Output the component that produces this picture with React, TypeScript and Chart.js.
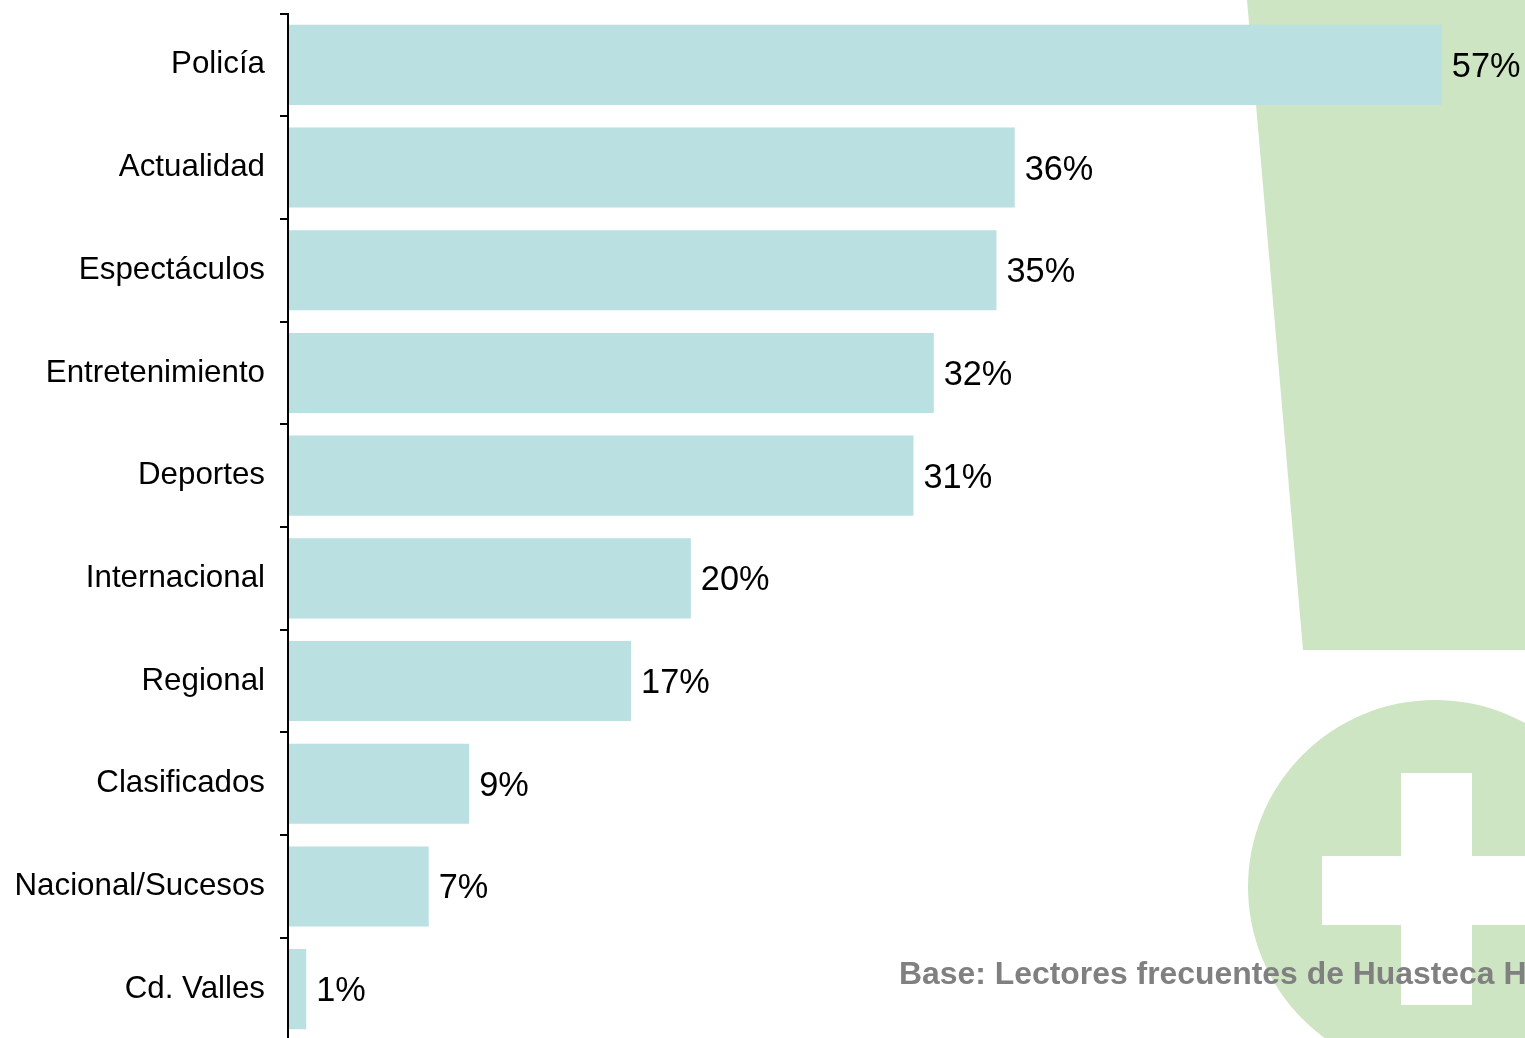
import React, { useEffect, useRef } from "react";
import { Chart, registerables } from "chart.js";

Chart.register(...registerables);

const categories = ["Policía", "Actualidad", "Espectáculos", "Entretenimiento", "Deportes", "Internacional", "Regional", "Clasificados", "Nacional/Sucesos", "Cd. Valles"];
const values = [57, 35.9, 35, 31.9, 30.9, 19.9, 16.95, 8.95, 6.95, 0.9];
const baseNote = "Base: Lectores frecuentes de Huasteca H";

const FONT = '"Liberation Sans", Arial, sans-serif';
const GREEN = "#CDE5C3";

const watermark = {
  id: "watermark",
  beforeDraw(chart: any) {
    const c = chart.ctx;
    c.save();
    c.fillStyle = "#fff";
    c.fillRect(0, 0, chart.width, chart.height);
    c.fillStyle = GREEN;
    c.beginPath();
    c.moveTo(1247, 0);
    c.lineTo(1303, 650);
    c.lineTo(1525, 650);
    c.lineTo(1525, 0);
    c.closePath();
    c.fill();
    c.beginPath();
    c.arc(1435, 887, 187, 0, Math.PI * 2);
    c.fill();
    c.fillStyle = "#fff";
    c.fillRect(1401, 773, 71, 232);
    c.fillRect(1322, 856, 203, 69);
    c.restore();
  },
};

const annotations = {
  id: "annotations",
  afterDraw(chart: any) {
    const c = chart.ctx;
    c.save();
    c.textBaseline = "middle";
    c.textAlign = "left";
    c.fillStyle = "#000";
    c.font = `34.3px ${FONT}`;
    chart.getDatasetMeta(0).data.forEach((bar: any, i: number) => {
      c.fillText(`${Math.round(values[i])}%`, bar.x + 10, bar.y + 2.5);
    });
    c.fillStyle = "#808080";
    c.font = `bold 31.9px ${FONT}`;
    c.textBaseline = "alphabetic";
    c.fillText(baseNote, 899, 984);
    c.restore();
  },
};

export default function App() {
  const ref = useRef<HTMLCanvasElement>(null);
  useEffect(() => {
    document.body.style.margin = "0";
    const chart = new Chart(ref.current!, {
      type: "bar",
      data: {
        labels: categories,
        datasets: [{ data: values, backgroundColor: "#BAE0E2", barPercentage: 0.78, categoryPercentage: 1 }],
      },
      options: {
        indexAxis: "y",
        animation: false,
        responsive: false,
        layout: { padding: { top: 13.5, bottom: 19.5, left: 0, right: 0 } },
        plugins: { legend: { display: false }, tooltip: { enabled: false } },
        scales: {
          x: { display: false, min: 0, max: 61.11 },
          y: {
            afterFit(scale: any) {
              scale.width = 288;
              scale.paddingTop = 0;
              scale.paddingBottom = 0;
            },
            grid: { drawOnChartArea: false, color: "#000", lineWidth: 2, tickLength: 8, tickWidth: 2, tickColor: "#000", offset: true, z: 1 },
            border: { color: "#000", width: 2, z: 1 },
            ticks: { color: "#000", font: { family: FONT, size: 31.3 }, padding: 15, autoSkip: false },
          },
        },
      },
      plugins: [watermark, annotations],
    } as any);
    return () => chart.destroy();
  }, []);
  return (
    <div style={{ width: 1525, height: 1038, overflow: "hidden" }}>
      <canvas ref={ref} width={1525} height={1060} style={{ display: "block" }} />
    </div>
  );
}
